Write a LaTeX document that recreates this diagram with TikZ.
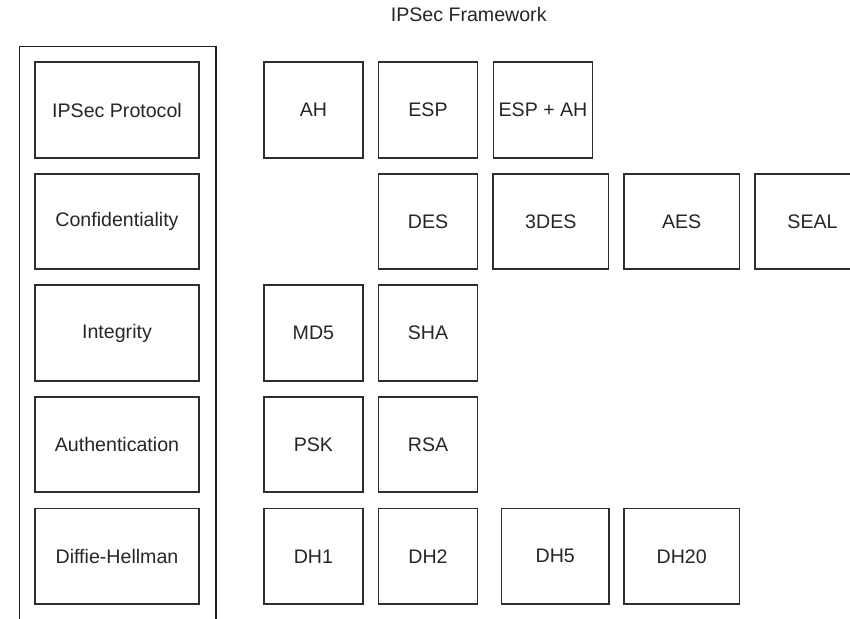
\documentclass[tikz,border=0pt]{standalone}
\usepackage{fontspec}
\setmainfont{Liberation Sans}
\begin{document}
\begin{tikzpicture}[x=0.75pt,y=-0.75pt,
  txt/.style={font=\fontsize{14.7}{17}\selectfont, text=black!85},
  box/.style={draw=black!82, line width=1.2pt, rectangle, minimum height=71.6pt, inner sep=0pt, txt},
  catbox/.style={box, minimum width=123pt},
  itembox/.style={box, minimum width=74pt},
  widebox/.style={box, minimum width=86.4pt},
  midbox/.style={box, minimum width=80.3pt},
  framebox/.style={draw=black!88, line width=1.2pt, rectangle, minimum width=147.6pt, minimum height=450pt, inner sep=0pt, anchor=north west}
]
\useasboundingbox (0,0) rectangle (850,618);
\clip (0,0) rectangle (850,618);
\fill[white] (0,0) rectangle (850,618);

\node[txt] (title) at (468.7,14.5) {IPSec Framework};

\node[framebox] (frame) at (18.5,45.7) {};

% categories
\node[catbox] (proto) at (117,110) {IPSec Protocol};
\node[catbox] (conf)  at (117,221.5) {Confidentiality};
\node[catbox] (integ) at (117,333) {Integrity};
\node[catbox] (auth)  at (117,444.5) {Authentication};
\node[catbox] (dh)    at (117,556.3) {Diffie-Hellman};

% row 1
\node[itembox] (ah)    at (313.4,110) {AH};
\node[itembox] (esp)   at (428,110) {ESP};
\node[itembox] (espah) at (543,110) {ESP + AH};

% row 2
\node[itembox] (des)  at (428,221.5) {DES};
\node[widebox] (tdes) at (550.8,221.5) {3DES};
\node[widebox] (aes)  at (681.7,221.5) {AES};
\node[widebox] (seal) at (812.5,221.5) {SEAL};

% row 3
\node[itembox] (md5) at (313.4,333) {MD5};
\node[itembox] (sha) at (428,333) {SHA};

% row 4
\node[itembox] (psk) at (313.4,444.5) {PSK};
\node[itembox] (rsa) at (428,444.5) {RSA};

% row 5
\node[itembox] (dh1)  at (313.4,556.3) {DH1};
\node[itembox] (dh2)  at (428,556.3) {DH2};
\node[midbox]  (dh5)  at (555.2,556.3) {DH5};
\node[widebox] (dh20) at (681.7,556.3) {DH20};
\end{tikzpicture}
\end{document}
